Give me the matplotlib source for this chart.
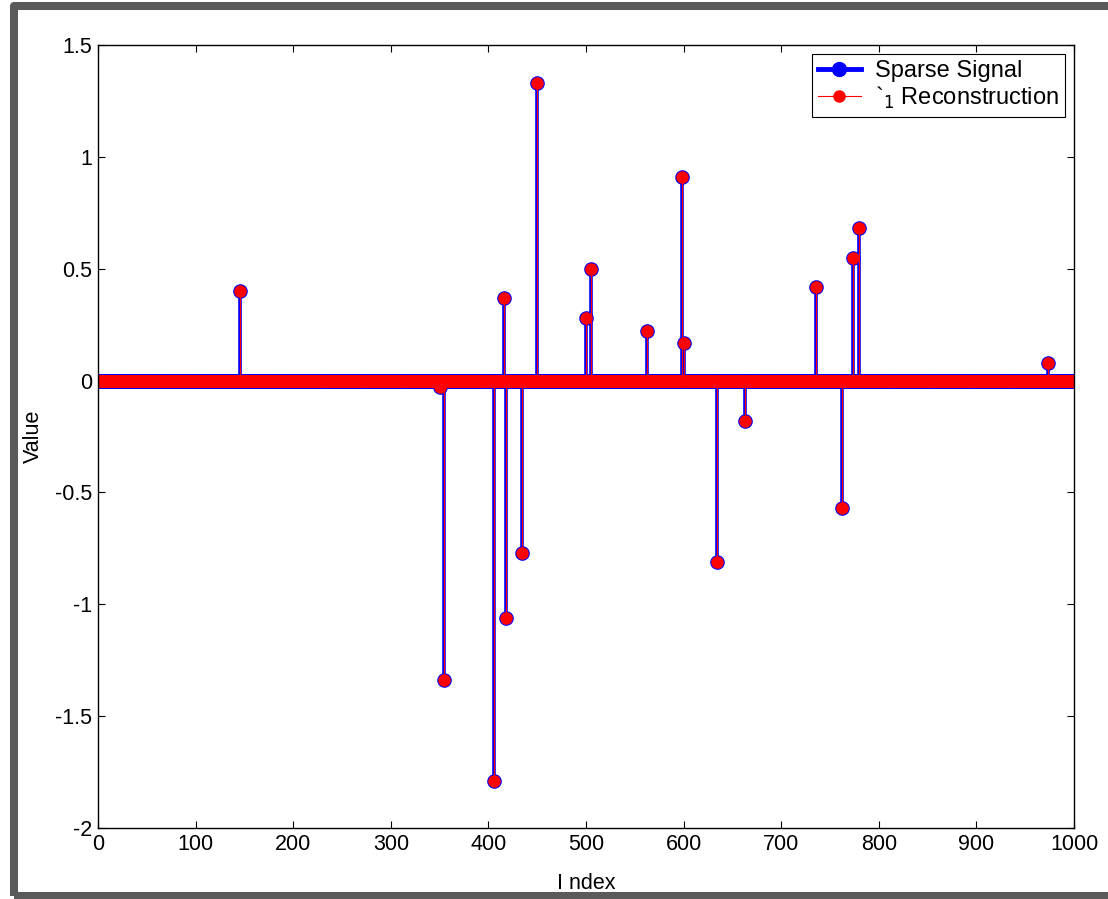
import numpy as np
import matplotlib
matplotlib.use('Agg')
import matplotlib.pyplot as plt
from matplotlib.lines import Line2D
from matplotlib.patches import Rectangle
from matplotlib.legend_handler import HandlerLine2D

plt.rcParams['font.family'] = ['Liberation Sans', 'DejaVu Sans']
plt.rcParams['axes.unicode_minus'] = False

# Sparse signal: nonzero entries (index, value); reconstruction matches
n = 1000
spike_idx = [145, 350, 354, 406, 416, 418, 434, 450, 500, 505,
             563, 598, 600, 634, 663, 736, 762, 774, 780, 973]
spike_val = [0.40, -0.03, -1.34, -1.79, 0.37, -1.06, -0.77, 1.33, 0.28, 0.50,
             0.22, 0.91, 0.17, -0.81, -0.18, 0.42, -0.57, 0.55, 0.68, 0.08]
recon_val = [0.40, -0.03, -1.34, -1.79, 0.37, -1.06, -0.77, 1.33, 0.28, 0.50,
             0.22, 0.91, 0.17, -0.81, -0.18, 0.42, -0.57, 0.55, 0.68, 0.08]

xticks = [0, 100, 200, 300, 400, 500, 600, 700, 800, 900, 1000]
yticks = [-2, -1.5, -1, -0.5, 0, 0.5, 1, 1.5]
ytick_labels = ['-2', '-1.5', '-1', '-0.5', '0', '0.5', '1', '1.5']

x = np.arange(1, n + 1)
signal = np.zeros(n)
signal[np.array(spike_idx) - 1] = spike_val
recon = np.zeros(n)
recon[np.array(spike_idx) - 1] = recon_val

fig = plt.figure(figsize=(11.08, 8.99), dpi=100)
ax = fig.add_axes([98 / 1108, 1 - 828 / 899, (1074 - 98) / 1108, (828 - 45) / 899])

m1, s1, b1 = ax.stem(x, signal, linefmt='b-', markerfmt='bo', basefmt=' ')
plt.setp(s1, linewidth=2.6, color='blue')
plt.setp(m1, markersize=9.5, color='blue', markeredgecolor='blue')

m2, s2, b2 = ax.stem(x, recon, linefmt='r-', markerfmt='ro', basefmt=' ')
plt.setp(s2, linewidth=0.8, color='red')
plt.setp(m2, markersize=8, color='red', markeredgecolor='red')

ax.set_xlim(0, 1000)
ax.set_ylim(-2, 1.5)
ax.set_xticks(xticks)
ax.set_xticklabels([str(t) for t in xticks])
ax.set_yticks(yticks)
ax.set_yticklabels(ytick_labels)
ax.tick_params(direction='in', top=True, right=True, length=5, width=0.8,
               labelsize=15.5, pad=4)
for sp in ax.spines.values():
    sp.set_linewidth(1.0)

ax.set_xlabel('I ndex', fontsize=15.5, labelpad=13)
ax.set_ylabel('Value', fontsize=15.5, labelpad=8)


class EndMarker(HandlerLine2D):
    def get_xdata(self, legend, xdescent, ydescent, width, height, fontsize):
        xdata = np.array([-xdescent, -xdescent + width])
        return xdata, np.array([-xdescent + width - 3])


h1 = Line2D([], [], color='blue', lw=3.5, marker='o', markersize=10)
h2 = Line2D([], [], color='red', lw=0.8, marker='o', markersize=8)
leg = ax.legend([h1, h2], ['Sparse Signal', '`$_1$ Reconstruction'],
                loc='upper right', fontsize=17, fancybox=False, framealpha=1,
                edgecolor='black', handlelength=1.8, handletextpad=0.6,
                borderpad=0.25, labelspacing=0.1, borderaxespad=0.4,
                handler_map={h1: EndMarker(), h2: EndMarker()})
leg.get_frame().set_linewidth(0.8)

# gray window frame
fig.add_artist(Rectangle((14 / 1108, 1 - 895.5 / 899), 1.2, (895.5 - 6) / 899,
                         transform=fig.transFigure, fill=False,
                         edgecolor='#5a5a5a', linewidth=5.8, joinstyle='round'))

plt.savefig('out.png', dpi=100)
